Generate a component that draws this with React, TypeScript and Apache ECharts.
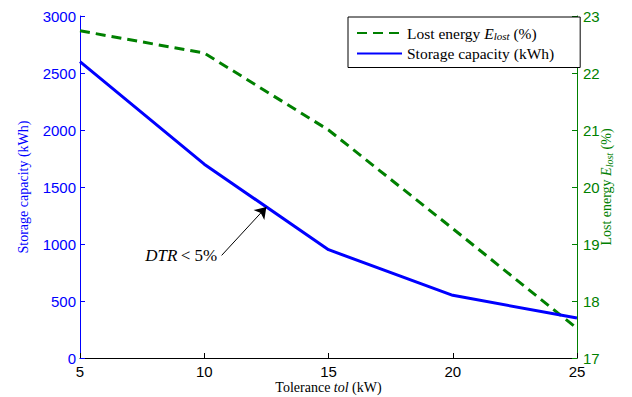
import React, { useEffect, useRef } from "react";
import * as echarts from "echarts";

const tolerance = [5, 10, 15, 20, 25];
const storageCapacity = [2600, 1700, 950, 550, 350];
const lostEnergy = [22.74, 22.35, 21.0, 19.27, 17.52];
const arrowStart = [10.7, 900];
const arrowEnd = [12.5, 1325];
const annotationAnchor = [10.6, 895];

const BLUE = "#0000ff";
const GREEN = "#008000";
const SERIF = "'Liberation Serif', 'DejaVu Serif', serif";
const SANS = "'Liberation Sans', Arial, sans-serif";

export default function App() {
  const ref = useRef<HTMLDivElement>(null);
  useEffect(() => {
    if (!ref.current) return;
    const chart = echarts.init(ref.current, undefined, { renderer: "svg" });
    const blueData = tolerance.map((t, i) => [t, storageCapacity[i]]);
    const greenData = tolerance.map((t, i) => [t, lostEnergy[i]]);
    chart.setOption({
      animation: false,
      backgroundColor: "#ffffff",
      grid: { left: 80, right: 55, top: 16, bottom: 39, containLabel: false, outerBoundsMode: "none" },
      legend: {
        orient: "vertical",
        left: 348,
        top: 17,
        padding: [8, 26, 6, 8],
        itemGap: 4,
        itemWidth: 45,
        itemHeight: 14,
        borderColor: "#000",
        borderWidth: 1,
        borderRadius: 0,
        backgroundColor: "#fff",
        itemStyle: { opacity: 0, borderWidth: 0 },
        data: ["Lost energy", "Storage capacity (kWh)"],
        formatter: (name: string) =>
          name === "Lost energy"
            ? "{a|Lost energy }{i|E}{s|lost}{a| (%)}"
            : "{a|Storage capacity (kWh)}",
        textStyle: {
          color: "#000",
          rich: {
            a: { fontFamily: SERIF, fontSize: 15.5, color: "#000" },
            i: { fontFamily: SERIF, fontSize: 15.5, fontStyle: "italic", color: "#000" },
            s: { fontFamily: SERIF, fontSize: 11, fontStyle: "italic", color: "#000", verticalAlign: "bottom", padding: [6, 0, 0, 0] },
          },
        },
      },
      xAxis: {
        type: "value",
        min: 5,
        max: 25,
        interval: 5,
        name: "{a|Tolerance }{i|tol}{a| (kW)}",
        nameLocation: "middle",
        nameGap: 22,
        nameMoveOverlap: false,
        nameTextStyle: {
          rich: {
            a: { fontFamily: SERIF, fontSize: 14, color: "#000" },
            i: { fontFamily: SERIF, fontSize: 14, fontStyle: "italic", color: "#000" },
          },
        },
        axisLine: { show: true, lineStyle: { color: "#000", width: 1 } },
        axisTick: { show: true, inside: true, length: 5, lineStyle: { color: "#000" } },
        axisLabel: { color: "#000", fontFamily: SANS, fontSize: 15, margin: 6, formatter: (v: number) => String(v) },
        splitLine: { show: false },
      },
      yAxis: [
        {
          type: "value",
          position: "left",
          min: 0,
          max: 3000,
          interval: 500,
          name: "Storage capacity (kWh)",
          nameLocation: "middle",
          nameRotate: 90,
          nameGap: 50,
          nameMoveOverlap: false,
          nameTextStyle: { fontFamily: SERIF, fontSize: 14, color: BLUE },
          axisLine: { show: true, lineStyle: { color: BLUE, width: 1 } },
          axisTick: { show: true, inside: true, length: 5, lineStyle: { color: BLUE } },
          axisLabel: { color: BLUE, fontFamily: SANS, fontSize: 15, margin: 4, formatter: (v: number) => String(v) },
          splitLine: { show: false },
        },
        {
          type: "value",
          position: "right",
          min: 17,
          max: 23,
          interval: 1,
          name: "{a|Lost energy }{i|E}{s|lost}{a| (%)}",
          nameLocation: "middle",
          nameRotate: 90,
          nameGap: 21,
          nameMoveOverlap: false,
          nameTextStyle: {
            rich: {
              a: { fontFamily: SERIF, fontSize: 14, color: GREEN },
              i: { fontFamily: SERIF, fontSize: 14, fontStyle: "italic", color: GREEN },
              s: { fontFamily: SERIF, fontSize: 10, fontStyle: "italic", color: GREEN, verticalAlign: "bottom", padding: [6, 0, 0, 0] },
            },
          },
          axisLine: { show: true, lineStyle: { color: GREEN, width: 1 } },
          axisTick: { show: true, inside: true, length: 5, lineStyle: { color: GREEN } },
          axisLabel: { color: GREEN, fontFamily: SANS, fontSize: 15, margin: 6, formatter: (v: number) => String(v) },
          splitLine: { show: false },
        },
      ],
      series: [
        {
          name: "Lost energy",
          type: "line",
          yAxisIndex: 1,
          data: greenData,
          symbol: "none",
          lineStyle: { color: GREEN, width: 3, type: [10, 6] },
          itemStyle: { color: GREEN },
          z: 2,
        },
        {
          name: "Storage capacity (kWh)",
          type: "line",
          yAxisIndex: 0,
          data: blueData,
          symbol: "none",
          lineStyle: { color: BLUE, width: 3 },
          itemStyle: { color: BLUE },
          z: 3,
          markLine: {
            silent: true,
            symbol: ["none", "arrow"],
            symbolSize: 11,
            label: { show: false },
            lineStyle: { color: "#000", width: 1, type: "solid" },
            itemStyle: { color: "#000" },
            data: [[{ coord: arrowStart }, { coord: arrowEnd }]],
          },
          markPoint: {
            silent: true,
            symbol: "circle",
            symbolSize: 0,
            data: [{ coord: annotationAnchor }],
            label: {
              show: true,
              position: "left",
              distance: 2,
              formatter: "{i|DTR} {a|< 5%}",
              rich: {
                i: { fontFamily: SERIF, fontSize: 17, fontStyle: "italic", color: "#000" },
                a: { fontFamily: SERIF, fontSize: 17, color: "#000" },
              },
            },
          },
        },
      ],
    });
    return () => chart.dispose();
  }, []);
  return <div ref={ref} style={{ width: 632, height: 397, position: "absolute", left: 0, top: 0 }} />;
}
